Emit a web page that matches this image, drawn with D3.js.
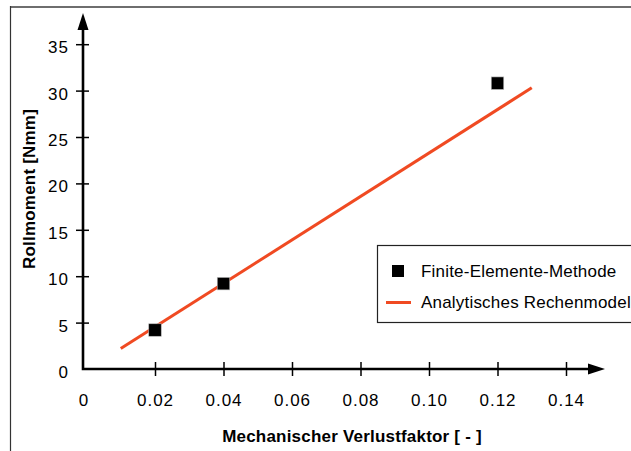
<!DOCTYPE html>
<html>
<head>
<meta charset="utf-8">
<script src="https://cdn.jsdelivr.net/npm/d3@7"></script>
<style>
  body { margin: 0; background: #fff; }
  svg { display: block; }
  text { font-family: "Liberation Sans", Arial, sans-serif; fill: #000; }
</style>
</head>
<body>
<script>
// values
var xTicks = [0, 0.02, 0.04, 0.06, 0.08, 0.10, 0.12, 0.14];
var yTicks = [0, 5, 10, 15, 20, 25, 30, 35];
var femX = [0.02, 0.04, 0.12];
var femY = [4.2, 9.2, 30.8];
var modelX = [0.01, 0.13];
var modelY = [2.2, 30.3];
var seriesNames = ["Finite-Elemente-Methode", "Analytisches Rechenmodel"];
var xTitle = "Mechanischer Verlustfaktor [ - ]";
var yTitle = "Rollmoment [Nmm]";

var W = 631, H = 451;
var ox = 83, oy = 369;
var red = "#f04a22";

var x = d3.scaleLinear().domain([0, 0.14]).range([86.5, 566]);
var y = d3.scaleLinear().domain([0, 35]).range([369, 44.2]);

var svg = d3.select("body").append("svg")
    .attr("width", W)
    .attr("height", H);

// page frame (top and left only)
svg.append("line")
    .attr("x1", 10).attr("x2", W).attr("y1", 7).attr("y2", 7)
    .attr("stroke", "#6e6e6e").attr("stroke-width", 2);
svg.append("line")
    .attr("x1", 10.5).attr("x2", 10.5).attr("y1", 6).attr("y2", H)
    .attr("stroke", "#333").attr("stroke-width", 1.2);

// x axis
var xa = svg.append("g")
    .attr("transform", "translate(0," + oy + ")")
    .call(d3.axisBottom(x)
        .tickValues(xTicks.filter(function(d) { return d > 0; }))
        .tickSize(7)
        .tickFormat(d3.format(".2f")));
xa.select(".domain").remove();
xa.selectAll(".tick line")
    .attr("y1", -7).attr("y2", 7)
    .attr("stroke", "#000").attr("stroke-width", 1.5);
xa.selectAll(".tick text")
    .attr("y", 36.5).attr("dy", 0)
    .style("font-size", "17px")
    .style("letter-spacing", "1px")
    .style("fill", "#000");

// "0" at the origin
svg.append("text")
    .attr("x", ox + 0.5).attr("y", oy + 36.5)
    .attr("text-anchor", "middle")
    .style("font-size", "17px")
    .text(d3.format("d")(xTicks[0]));

// y axis
var ya = svg.append("g")
    .attr("transform", "translate(" + ox + ",0)")
    .call(d3.axisLeft(y)
        .tickValues(yTicks)
        .tickSize(7));
ya.select(".domain").remove();
ya.selectAll(".tick line")
    .attr("x1", -7).attr("x2", 6)
    .attr("stroke", "#000").attr("stroke-width", 1.5)
    .filter(function(d) { return d === 0; }).remove();
ya.selectAll(".tick text")
    .attr("x", -14).attr("dy", 0).attr("y", 8.5)
    .style("font-size", "17px")
    .style("letter-spacing", "1px")
    .style("fill", "#000");

// axis lines with arrows
svg.append("path")
    .attr("d", "M" + ox + ",29V" + oy + "H590")
    .attr("fill", "none")
    .attr("stroke", "#000")
    .attr("stroke-width", 2.6);
svg.append("path")
    .attr("d", "M" + ox + ",13L" + (ox - 5.5) + ",30L" + (ox + 5.5) + ",30Z")
    .attr("fill", "#000");
svg.append("path")
    .attr("d", "M605," + oy + "L588," + (oy - 5.5) + "L588," + (oy + 5.5) + "Z")
    .attr("fill", "#000");

// analytical model line
var modelData = modelX.map(function(d, i) { return [d, modelY[i]]; });
svg.append("path")
    .datum(modelData)
    .attr("d", d3.line()
        .x(function(d) { return x(d[0]); })
        .y(function(d) { return y(d[1]); }))
    .attr("fill", "none")
    .attr("stroke", red)
    .attr("stroke-width", 3);

// FEM squares
var s = 12.5;
svg.selectAll(".fem")
    .data(femX.map(function(d, i) { return [d, femY[i]]; }))
    .enter()
    .append("rect")
    .attr("class", "fem")
    .attr("x", function(d) { return x(d[0]) - s / 2; })
    .attr("y", function(d) { return y(d[1]) - s / 2; })
    .attr("width", s)
    .attr("height", s)
    .attr("fill", "#000")
    .attr("stroke", "#bbb")
    .attr("stroke-width", 0.6);

// axis titles
svg.append("text")
    .attr("x", 352).attr("y", 442)
    .attr("text-anchor", "middle")
    .style("font-size", "17px")
    .style("font-weight", "bold")
    .style("letter-spacing", "0.2px")
    .text(xTitle);

svg.append("text")
    .attr("transform", "translate(35,189) rotate(-90)")
    .attr("text-anchor", "middle")
    .style("font-size", "17px")
    .style("font-weight", "bold")
    .style("letter-spacing", "0.2px")
    .text(yTitle);

// legend
var lg = svg.append("g");
lg.append("rect")
    .attr("x", 377.5).attr("y", 245.5)
    .attr("width", 300).attr("height", 77)
    .attr("fill", "#fff")
    .attr("stroke", "#222")
    .attr("stroke-width", 1.2);
lg.append("rect")
    .attr("x", 392).attr("y", 265)
    .attr("width", 12).attr("height", 12)
    .attr("fill", "#000");
lg.append("line")
    .attr("x1", 386).attr("x2", 411)
    .attr("y1", 302.5).attr("y2", 302.5)
    .attr("stroke", red).attr("stroke-width", 3);
lg.selectAll(".lgtext")
    .data(seriesNames)
    .enter()
    .append("text")
    .attr("class", "lgtext")
    .attr("x", 421)
    .attr("y", function(d, i) { return 276.5 + i * 31; })
    .style("font-size", "17px")
    .style("letter-spacing", "0.2px")
    .text(function(d) { return d; });
</script>
</body>
</html>
